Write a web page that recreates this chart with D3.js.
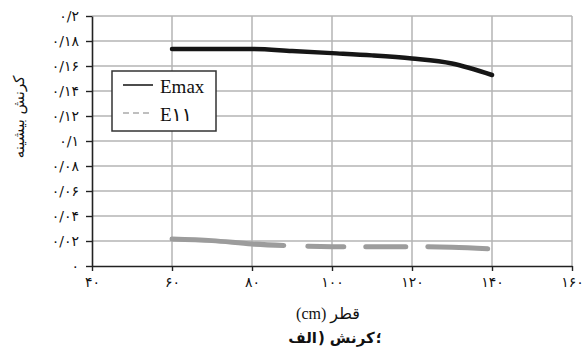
<!DOCTYPE html>
<html>
<head>
<meta charset="utf-8">
<script src="https://cdn.jsdelivr.net/npm/d3@7"></script>
<style>
  body { margin: 0; background: #fff; }
  svg { display: block; }
</style>
</head>
<body>
<svg id="Target" width="582" height="357"></svg>
<script>
// diameters (cm) and strains
const diameters = [60, 70, 80, 90, 100, 110, 120, 130, 140];
const eMax = [0.1736, 0.1736, 0.1736, 0.172, 0.1703, 0.1685, 0.166, 0.162, 0.1528];
const e11 = [0.0216, 0.0203, 0.0176, 0.0162, 0.0155, 0.0155, 0.0155, 0.015, 0.0136];

const xTicks = [40, 60, 80, 100, 120, 140, 160];
const xTickLabels = ["۴۰", "۶۰", "۸۰", "۱۰۰", "۱۲۰", "۱۴۰", "۱۶۰"];
const yTicks = [0, 0.02, 0.04, 0.06, 0.08, 0.1, 0.12, 0.14, 0.16, 0.18, 0.2];
const yTickLabels = ["۰", "۰/۰۲", "۰/۰۴", "۰/۰۶", "۰/۰۸", "۰/۱", "۰/۱۲", "۰/۱۴", "۰/۱۶", "۰/۱۸", "۰/۲"];

const seriesNames = ["Emax", "E۱۱"];
// caption pieces, laid out left to right as in the picture
const captionParts = ["الف", ")", "کرنش", "؛"];

const serif = "'Liberation Serif', 'DejaVu Sans', serif";
const persian = "'DejaVu Sans', sans-serif";

const svg = d3.select("#Target");

const x = d3.scaleLinear().domain([40, 160]).range([92, 572]);
const y = d3.scaleLinear().domain([0, 0.2]).range([266, 16]);

// grid
svg.append("g")
    .selectAll("line.h")
    .data(yTicks.slice(1))
    .enter()
    .append("line")
    .attr("x1", x(40))
    .attr("x2", x(160))
    .attr("y1", d => y(d))
    .attr("y2", d => y(d))
    .attr("stroke", "#b5b5b5")
    .attr("stroke-width", 1.5);

svg.append("g")
    .selectAll("line.v")
    .data(xTicks.slice(1))
    .enter()
    .append("line")
    .attr("x1", d => x(d))
    .attr("x2", d => x(d))
    .attr("y1", y(0))
    .attr("y2", y(0.2))
    .attr("stroke", "#b5b5b5")
    .attr("stroke-width", 1.5);

// axes
const xAxis = svg.append("g")
    .attr("transform", `translate(0,${y(0)})`)
    .call(d3.axisBottom(x)
        .tickValues(xTicks)
        .tickSize(5)
        .tickSizeOuter(0)
        .tickPadding(6)
        .tickFormat((d, i) => xTickLabels[i]));

const yAxis = svg.append("g")
    .attr("transform", `translate(${x(40)},0)`)
    .call(d3.axisLeft(y)
        .tickValues(yTicks)
        .tickSize(6)
        .tickSizeOuter(0)
        .tickPadding(7)
        .tickFormat((d, i) => yTickLabels[i]));

[xAxis, yAxis].forEach(g => {
    g.select(".domain").attr("stroke", "#222").attr("stroke-width", 1.6);
    g.selectAll(".tick line").attr("stroke", "#222").attr("stroke-width", 1.4);
    g.selectAll(".tick text")
        .attr("fill", "#111")
        .style("font-family", persian)
        .style("font-size", "14px");
});

// series
const line = d3.line()
    .x((d, i) => x(diameters[i]))
    .y(d => y(d))
    .curve(d3.curveMonotoneX);

svg.append("path")
    .datum(e11)
    .attr("d", line)
    .attr("fill", "none")
    .attr("stroke", "#9c9c9c")
    .attr("stroke-width", 5)
    .attr("stroke-linecap", "round")
    .attr("stroke-dasharray", "112,24,36,22,40,22,60");

svg.append("path")
    .datum(eMax)
    .attr("d", line)
    .attr("fill", "none")
    .attr("stroke", "#161616")
    .attr("stroke-width", 4.5)
    .attr("stroke-linecap", "round");

// legend
const legend = svg.append("g");
legend.append("rect")
    .attr("x", 112)
    .attr("y", 71)
    .attr("width", 104)
    .attr("height", 60)
    .attr("fill", "#fff")
    .attr("stroke", "#333")
    .attr("stroke-width", 1.5);

const items = legend.selectAll("g.item")
    .data(seriesNames)
    .enter()
    .append("g")
    .attr("transform", (d, i) => `translate(0,${85 + i * 28})`);

items.append("line")
    .attr("x1", 123)
    .attr("x2", 153)
    .attr("stroke", (d, i) => i === 0 ? "#111" : "#aaa")
    .attr("stroke-width", 1.5)
    .attr("stroke-dasharray", (d, i) => i === 0 ? null : "6,4");

items.append("text")
    .attr("x", 160)
    .attr("y", 7.5)
    .attr("fill", "#111")
    .style("font-family", serif)
    .style("font-size", "19px")
    .text(d => d);

// titles
svg.append("text")
    .attr("transform", "translate(24,117) rotate(-90)")
    .attr("text-anchor", "middle")
    .attr("direction", "rtl")
    .attr("fill", "#111")
    .style("font-family", persian)
    .style("font-size", "15px")
    .text("کرنش بیشینه");

svg.append("text")
    .attr("x", 328)
    .attr("y", 319)
    .attr("text-anchor", "middle")
    .attr("direction", "rtl")
    .attr("fill", "#111")
    .style("font-family", serif)
    .style("font-size", "16px")
    .text("قطر (cm)");

// caption: each piece is its own text so the order stays as drawn
const caption = svg.append("g");
const parts = caption.selectAll("text")
    .data(captionParts)
    .enter()
    .append("text")
    .attr("y", 343)
    .attr("fill", "#111")
    .style("font-family", persian)
    .style("font-size", "15px")
    .style("font-weight", "bold")
    .text(d => d);

const gaps = [0, 1, 5, 1];
const widths = parts.nodes().map(n => n.getComputedTextLength());
const total = d3.sum(widths) + d3.sum(gaps);
let cx = 335 - total / 2;
parts.each(function (d, i) {
    cx += gaps[i];
    d3.select(this).attr("x", cx);
    cx += widths[i];
});
</script>
</body>
</html>
